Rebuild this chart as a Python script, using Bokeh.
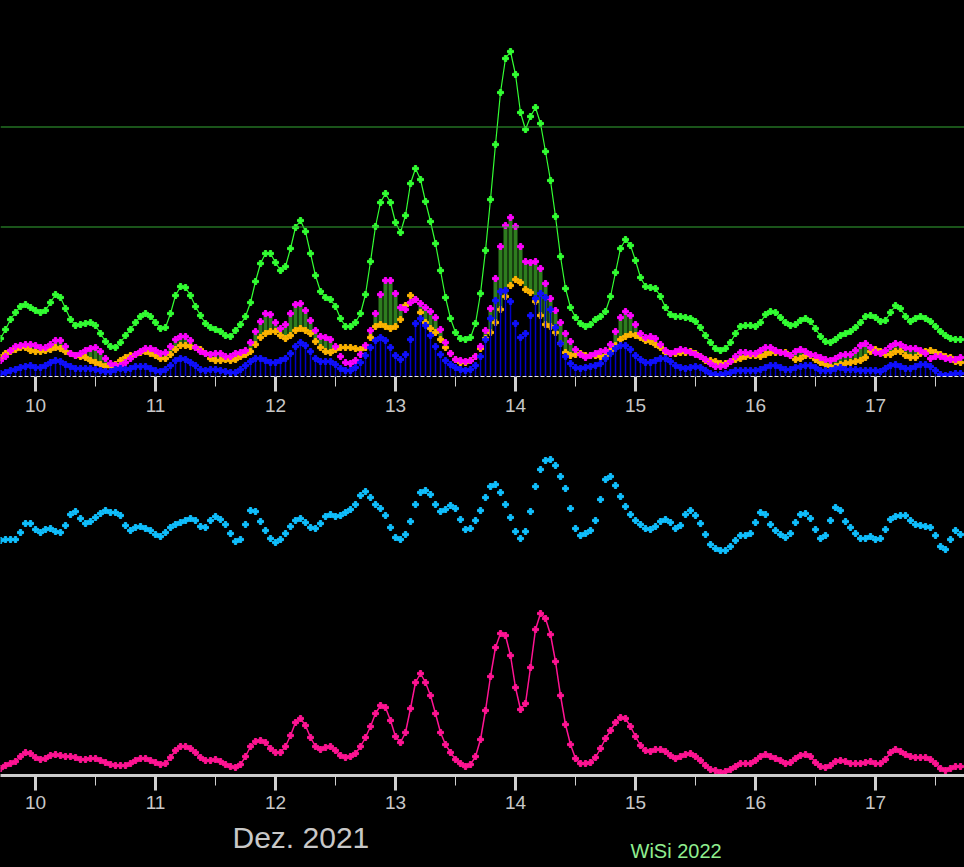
import numpy as np
from bokeh.plotting import figure
from bokeh.layouts import column
from bokeh.models import Range1d, FixedTicker, Span, Label, LinearAxis
from bokeh.embed import file_html
from bokeh.resources import INLINE

# hourly samples, Dec 9 17:00 ... Dec 17 17:00 (day-of-month as float)
start_day = 10 - 7 / 24
day_ticks = [10, 11, 12, 13, 14, 15, 16, 17]
half_day_ticks = [9.5, 10.5, 11.5, 12.5, 13.5, 14.5, 15.5, 16.5, 17.5]
ref_levels = [149.5, 249.5]

green = [38, 47, 57, 64, 70, 72, 69, 66, 64, 66,
         74, 82, 79, 68, 57, 51, 52, 53, 54, 51,
         43, 35, 30, 29, 34, 41, 47, 54, 60, 63,
         60, 54, 48, 49, 63, 81, 90, 89, 81, 70,
         61, 53, 49, 47, 45, 41, 40, 46, 52, 60,
         74, 95, 113, 123, 123, 114, 106, 110, 128, 149,
         156, 145, 123, 101, 85, 79, 77, 70, 58, 50,
         50, 54, 63, 82, 115, 150, 174, 183, 174, 154,
         144, 161, 193, 208, 197, 175, 155, 133, 106, 79,
         58, 44, 38, 37, 39, 53, 83, 126, 177, 232,
         284, 318, 325, 302, 264, 247, 260, 269, 253, 225,
         196, 160, 120, 88, 69, 59, 53, 50, 52, 57,
         60, 65, 80, 104, 128, 137, 131, 116, 99, 90,
         89, 88, 80, 69, 62, 60, 60, 59, 58, 55,
         49, 41, 34, 28, 26, 28, 34, 43, 50, 51,
         51, 50, 54, 62, 65, 64, 59, 54, 51, 52,
         56, 58, 55, 48, 40, 35, 34, 37, 41, 43,
         45, 49, 54, 60, 61, 59, 55, 56, 64, 71,
         68, 60, 55, 58, 60, 58, 55, 50, 45, 41,
         38, 37, 37]

magenta = [16, 20, 26, 30, 31, 32, 32, 31, 29, 29,
           32, 36, 36, 30, 23, 21, 23, 26, 28, 29,
           25, 18, 13, 11, 11, 14, 18, 22, 25, 28,
           28, 26, 23, 24, 30, 37, 40, 40, 36, 29,
           25, 23, 22, 23, 23, 20, 20, 23, 24, 26,
           34, 45, 55, 63, 62, 54, 48, 52, 63, 72,
           73, 66, 56, 46, 40, 39, 37, 30, 20, 14,
           13, 16, 22, 31, 46, 63, 82, 96, 96, 83,
           69, 67, 74, 77, 73, 69, 65, 59, 47, 34,
           23, 17, 16, 15, 16, 20, 30, 46, 68, 98,
           130, 151, 159, 150, 130, 115, 114, 115, 108, 93,
           78, 66, 54, 43, 35, 27, 22, 19, 21, 23,
           25, 26, 32, 45, 59, 65, 61, 52, 43, 39,
           40, 38, 32, 26, 23, 25, 27, 26, 24, 22,
           20, 17, 13, 10, 10, 11, 15, 20, 24, 24,
           23, 23, 26, 29, 29, 26, 24, 23, 21, 25,
           27, 25, 22, 21, 19, 17, 16, 18, 21, 22,
           22, 26, 31, 33, 29, 24, 23, 26, 30, 33,
           32, 29, 28, 28, 26, 23, 18, 20, 20, 18,
           17, 17, 19]

orange = [19, 23, 25, 27, 29, 29, 26, 25, 25, 26,
          27, 29, 28, 25, 23, 21, 20, 19, 16, 14,
          12, 10, 10, 12, 16, 19, 21, 22, 24, 25,
          23, 21, 18, 18, 22, 27, 31, 31, 30, 29,
          27, 23, 18, 16, 16, 17, 16, 17, 20, 22,
          25, 32, 39, 43, 45, 45, 41, 38, 41, 46,
          48, 46, 43, 35, 29, 25, 24, 27, 29, 29,
          29, 28, 27, 29, 39, 50, 52, 50, 48, 50,
          57, 71, 81, 77, 64, 54, 48, 44, 37, 29,
          23, 17, 14, 14, 16, 20, 28, 38, 44, 54,
          67, 80, 91, 97, 94, 87, 84, 75, 61, 52,
          50, 44, 33, 24, 21, 22, 23, 21, 21, 21,
          20, 21, 26, 31, 37, 40, 42, 41, 39, 36,
          35, 32, 29, 24, 23, 23, 24, 24, 25, 23,
          20, 16, 16, 15, 13, 13, 15, 17, 18, 20,
          21, 21, 20, 22, 24, 24, 24, 24, 21, 17,
          18, 21, 21, 17, 14, 12, 10, 10, 12, 13,
          14, 15, 16, 19, 25, 27, 25, 22, 22, 25,
          25, 21, 19, 19, 23, 25, 26, 24, 22, 20,
          19, 15, 14]

blue = [3, 4, 6, 7, 9, 10, 11, 9, 9, 11,
        14, 16, 15, 12, 10, 8, 8, 8, 8, 7,
        6, 5, 5, 7, 8, 7, 8, 10, 10, 10,
        8, 6, 5, 7, 11, 16, 18, 17, 14, 11,
        7, 6, 7, 7, 6, 5, 4, 4, 7, 11,
        15, 18, 18, 16, 14, 14, 16, 18, 23, 30,
        34, 31, 25, 18, 15, 15, 15, 12, 8, 6,
        6, 9, 14, 21, 29, 36, 39, 36, 29, 21,
        17, 22, 37, 53, 58, 51, 41, 30, 22, 16,
        12, 9, 7, 6, 7, 11, 20, 37, 58, 76,
        85, 86, 75, 53, 39, 43, 61, 78, 83, 79,
        67, 49, 33, 20, 13, 9, 8, 9, 10, 11,
        13, 18, 23, 28, 31, 31, 27, 21, 17, 14,
        14, 16, 18, 18, 15, 11, 9, 8, 9, 10,
        9, 6, 3, 2, 2, 3, 4, 6, 6, 6,
        6, 6, 7, 9, 11, 11, 9, 7, 7, 9,
        10, 11, 11, 9, 6, 6, 6, 8, 9, 7,
        7, 7, 6, 6, 6, 6, 5, 8, 11, 12,
        10, 8, 8, 10, 12, 12, 10, 6, 2, 1,
        2, 3, 3]

cyan = [20, 21, 21, 21, 28, 37, 37, 31, 28, 31,
        32, 29, 28, 35, 46, 49, 42, 37, 39, 43,
        47, 50, 48, 48, 45, 35, 30, 33, 34, 32,
        30, 26, 24, 28, 33, 36, 38, 40, 42, 40,
        34, 33, 40, 44, 41, 36, 27, 19, 21, 36,
        50, 49, 39, 30, 22, 18, 21, 27, 34, 40,
        42, 38, 33, 32, 37, 44, 46, 44, 45, 48,
        51, 56, 65, 69, 63, 56, 52, 45, 33, 23,
        21, 26, 39, 56, 68, 70, 66, 56, 49, 51,
        55, 52, 41, 31, 32, 40, 50, 63, 74, 76,
        68, 56, 43, 29, 22, 29, 49, 74, 91, 100,
        101, 95, 84, 72, 52, 32, 25, 27, 30, 40,
        61, 81, 84, 75, 64, 54, 46, 40, 36, 32,
        31, 34, 39, 41, 38, 32, 35, 46, 50, 45,
        37, 26, 16, 12, 10, 10, 14, 20, 25, 25,
        27, 38, 48, 46, 36, 30, 26, 23, 27, 38,
        46, 47, 42, 31, 22, 25, 40, 53, 50, 39,
        33, 27, 22, 22, 24, 21, 22, 31, 41, 44,
        45, 45, 40, 36, 35, 34, 33, 25, 14, 11,
        21, 30, 26]

pink = [7, 10, 12, 14, 19, 23, 22, 18, 16, 17,
        20, 21, 20, 19, 19, 18, 16, 16, 17, 17,
        15, 13, 11, 10, 10, 10, 12, 15, 17, 17,
        15, 13, 11, 12, 18, 25, 29, 29, 27, 23,
        18, 15, 15, 16, 14, 11, 9, 8, 11, 19,
        29, 34, 35, 33, 27, 23, 23, 29, 40, 53,
        57, 50, 38, 29, 26, 28, 29, 25, 20, 18,
        19, 22, 29, 38, 49, 62, 70, 68, 55, 39,
        33, 43, 67, 93, 102, 93, 80, 62, 43, 31,
        23, 16, 12, 9, 11, 19, 36, 65, 99, 128,
        142, 140, 120, 88, 66, 72, 108, 146, 162, 157,
        141, 114, 80, 51, 31, 17, 12, 12, 13, 18,
        27, 37, 45, 53, 58, 57, 49, 39, 30, 25,
        24, 26, 26, 24, 20, 17, 19, 21, 22, 19,
        15, 10, 6, 5, 3, 4, 6, 9, 12, 12,
        12, 15, 19, 21, 19, 17, 15, 12, 13, 17,
        20, 21, 19, 13, 9, 8, 10, 14, 15, 14,
        12, 12, 12, 13, 14, 12, 12, 16, 23, 26,
        24, 21, 19, 18, 18, 18, 16, 12, 7, 5,
        7, 9, 9]

t = start_day + np.arange(len(green)) / 24.0

W = 964
XR = (10 - 35 / 120, 10 + 929 / 120)
FONT = "Liberation Sans"


def panel(height, yr, border_bottom=0):
    p = figure(width=W, height=height, x_range=Range1d(*XR), y_range=Range1d(*yr),
               output_backend="svg", toolbar_location=None,
               background_fill_color="black", border_fill_color="black",
               outline_line_color=None, x_axis_location=None, y_axis_location=None,
               min_border_left=0, min_border_right=0, min_border_top=0,
               min_border_bottom=border_bottom)
    p.grid.visible = False
    return p


def day_axis(p, dashed, standoff):
    ax = LinearAxis(ticker=FixedTicker(ticks=day_ticks, minor_ticks=half_day_ticks))
    if dashed:
        ax.axis_line_color = "#e8e8e8"
        ax.axis_line_width = 1
        ax.axis_line_dash = "4 2"
    else:
        ax.axis_line_color = "#cccccc"
        ax.axis_line_width = 3
    ax.major_tick_line_color = "#d0d0d0"
    ax.major_tick_line_width = 3
    ax.major_tick_out = 15
    ax.major_tick_in = 0
    ax.minor_tick_line_color = "#d0d0d0"
    ax.minor_tick_line_width = 1
    ax.minor_tick_out = 10
    ax.minor_tick_in = 0
    ax.major_label_text_color = "#c8c8c8"
    ax.major_label_text_font = FONT
    ax.major_label_text_font_size = "19px"
    ax.major_label_standoff = standoff
    p.add_layout(ax, "below")


# ---- top panel: counts (page rows 0..376, axis below)
top = panel(426, (0, 376), border_bottom=50)
for lv in ref_levels:
    top.add_layout(Span(location=lv, dimension="width", line_color="#34a834", line_width=1))

mag = np.array(magenta)
ora = np.array(orange)
sel = mag > ora
top.vbar(x=t[sel], width=0.025, bottom=ora[sel], top=mag[sel], color="#2e7d1f")
top.scatter(t, orange, marker="plus", size=6, color="#ffb400")
top.scatter(t, magenta, marker="plus", size=6, color="#ff00ff")
top.segment(x0=t, y0=0, x1=t, y1=blue, line_color="#0000c8", line_width=1.5)
top.scatter(t, blue, marker="plus", size=6, color="#1010ff")
top.line(t, green, line_color="#33ff33", line_width=1.2)
top.scatter(t, green, marker="plus", size=6, color="#33ff33")
day_axis(top, dashed=True, standoff=7)

# ---- middle panel: cyan points (page rows 426..600)
mid = panel(174, (-40, 134))
mid.scatter(t, cyan, marker="plus", size=6, color="#10c0ff")

# ---- bottom panel: pink line (page rows 600..775, axis below)
bot = panel(219, (0, 175), border_bottom=44)
bot.line(t, pink, line_color="#ff1493", line_width=1.5)
bot.scatter(t, pink, marker="plus", size=6, color="#ff1493")
day_axis(bot, dashed=False, standoff=5)

# ---- footer texts
foot = figure(width=W, height=48, x_range=Range1d(0, 1), y_range=Range1d(0, 1),
              output_backend="svg", toolbar_location=None,
              background_fill_color="black", border_fill_color="black",
              outline_line_color=None, x_axis_location=None, y_axis_location=None,
              min_border_left=0, min_border_right=0, min_border_top=0, min_border_bottom=0)
foot.grid.visible = False
foot.add_layout(Label(x=232, y=30, x_units="screen", y_units="screen", text="Dez. 2021",
                      text_font=FONT, text_font_size="30px", text_color="#c8c8c8",
                      text_align="left", text_baseline="middle"))
foot.add_layout(Label(x=630, y=17, x_units="screen", y_units="screen", text="WiSi 2022",
                      text_font=FONT, text_font_size="20px", text_color="#90ee90",
                      text_align="left", text_baseline="middle"))

layout = column(top, mid, bot, foot, spacing=0)
html = file_html(layout, INLINE)
html = html.replace("</head>", "<style>html,body{background:#000;}</style></head>", 1)
open("out.html", "w").write(html)
